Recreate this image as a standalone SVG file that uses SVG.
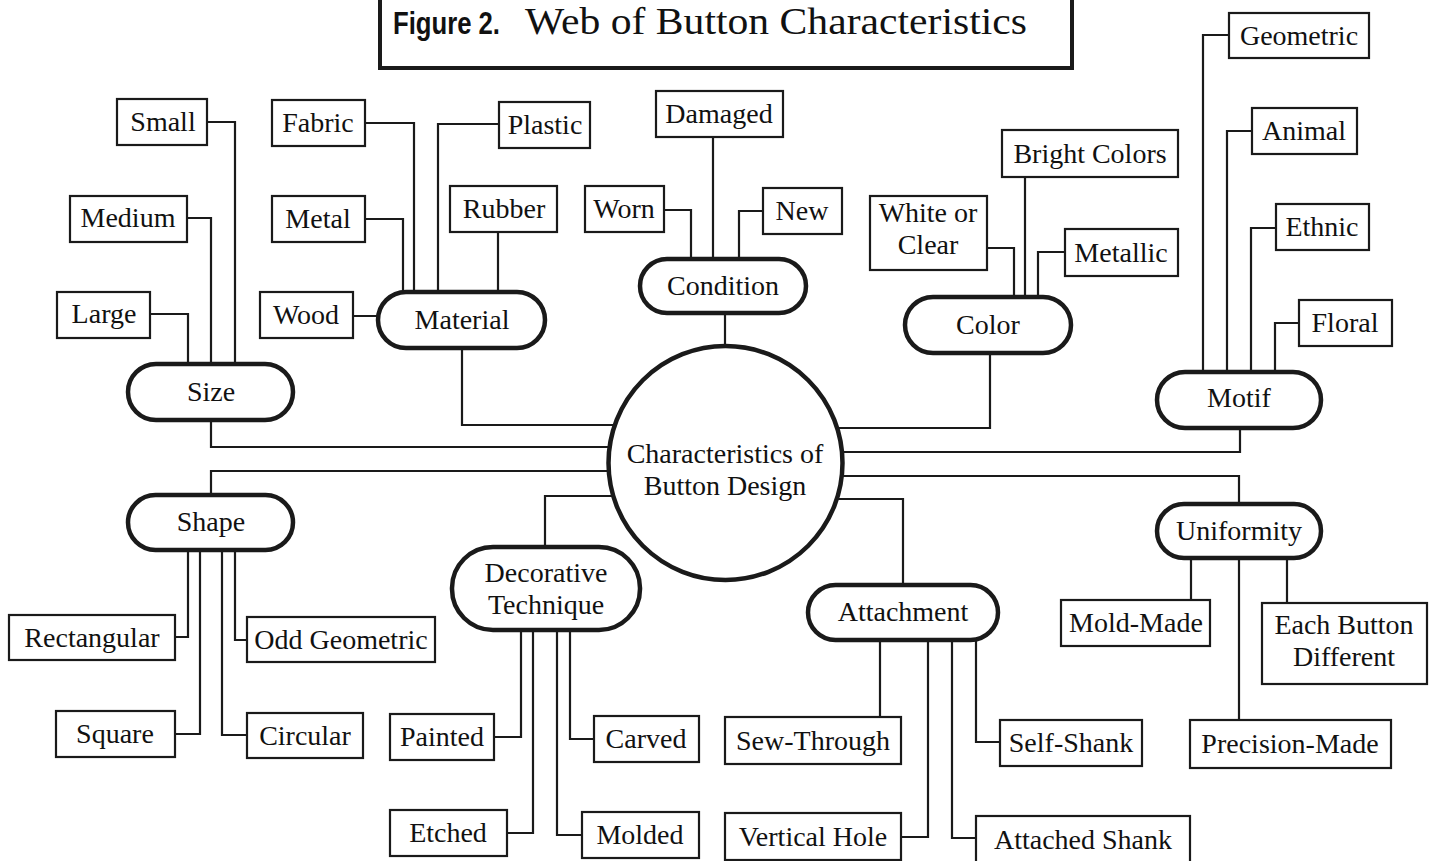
<svg xmlns="http://www.w3.org/2000/svg" width="1440" height="861" viewBox="0 0 1440 861">
<style>
.bg{fill:#fff}
.c path{fill:none;stroke:#1a1a1a;stroke-width:2.2}
.pill{fill:#fff;stroke:#1a1a1a;stroke-width:4.5}
.box{fill:#fff;stroke:#1a1a1a;stroke-width:2.2}
text{font-family:"Liberation Serif","Times New Roman",serif;font-size:28px;fill:#111;text-anchor:middle}
.fig{font-family:"Liberation Sans",Arial,sans-serif;font-weight:bold;text-anchor:start;font-size:32px}
.ttl{font-size:37px;text-anchor:start}
</style>
<rect class="bg" x="0" y="0" width="1440" height="861"/>
<g id="title">
<rect x="380" y="-10" width="692" height="78" fill="#fff" stroke="#1a1a1a" stroke-width="4"/>
<text class="fig" x="393" y="34" textLength="107" lengthAdjust="spacingAndGlyphs">Figure 2.</text>
<text class="ttl" x="525" y="34" textLength="502" lengthAdjust="spacingAndGlyphs">Web of Button Characteristics</text>
</g>
<g id="connectors" class="c">
<path d="M207,122 H235 V364 M187,218 H211 V364 M150,314 H188 V364 M211,420 V447 H610"/>
<path d="M365,123 H414 V292 M365,219 H403 V292 M499,124 H438 V292 M498,232 V292 M353,316 H378 M462,348 V425 H615"/>
<path d="M713,137 V259 M664,210 H691 V259 M763,211 H739 V259 M725,313 V346"/>
<path d="M987,248 H1014 V297 M1025,177 V297 M1065,252 H1038 V297 M990,353 V428 H837"/>
<path d="M1229,35 H1203 V372 M1252,131 H1227 V372 M1276,228 H1251 V372 M1299,323 H1275 V372 M1240,428 V452 H842"/>
<path d="M609,471 H211 V495 M188,550 V637 H175 M200,550 V734 H175 M222,550 V735 H247 M235,550 V640 H247"/>
<path d="M613,496 H545 V547 M521,630 V737 H494 M533,630 V833 H507 M557,630 V835 H582 M570,630 V739 H594"/>
<path d="M837,499 H903 V585 M880,640 V717 M928,640 V837 H901 M952,640 V838 H976 M976,640 V742 H1000"/>
<path d="M842,476 H1239 V504 M1191,558 V600 M1239,558 V720 M1287,558 V603"/>
</g>
<g id="center"><circle cx="725.5" cy="463" r="117" class="pill"/><text x="725" y="463">Characteristics of</text><text x="725" y="495">Button Design</text></g>
<g id="size"><rect class="pill" x="128" y="364" width="165" height="56" rx="28"/><text x="211" y="401">Size</text></g>
<g id="material"><rect class="pill" x="378" y="292" width="167" height="56" rx="28"/><text x="462" y="329">Material</text></g>
<g id="condition"><rect class="pill" x="640" y="259" width="166" height="54" rx="27"/><text x="723" y="295">Condition</text></g>
<g id="color"><rect class="pill" x="905" y="297" width="166" height="56" rx="28"/><text x="988" y="334">Color</text></g>
<g id="motif"><rect class="pill" x="1157" y="372" width="164" height="56" rx="28"/><text x="1239" y="407">Motif</text></g>
<g id="shape"><rect class="pill" x="128" y="495" width="165" height="55" rx="27.5"/><text x="211" y="531">Shape</text></g>
<g id="decorative"><rect class="pill" x="452" y="547" width="188" height="83" rx="41"/><text x="546" y="582">Decorative</text><text x="546" y="614">Technique</text></g>
<g id="attachment"><rect class="pill" x="808" y="585" width="190" height="55" rx="27.5"/><text x="903" y="621">Attachment</text></g>
<g id="uniformity"><rect class="pill" x="1157" y="504" width="164" height="54" rx="27"/><text x="1239" y="540">Uniformity</text></g>
<g id="small"><rect class="box" x="117" y="99" width="90" height="46"/><text x="163" y="131">Small</text></g>
<g id="medium"><rect class="box" x="70" y="196" width="117" height="46"/><text x="128" y="227">Medium</text></g>
<g id="large"><rect class="box" x="57" y="292" width="93" height="46"/><text x="104" y="323">Large</text></g>
<g id="fabric"><rect class="box" x="272" y="100" width="93" height="46"/><text x="318" y="132">Fabric</text></g>
<g id="plastic"><rect class="box" x="499" y="102" width="91" height="46"/><text x="545" y="134">Plastic</text></g>
<g id="metal"><rect class="box" x="272" y="196" width="93" height="46"/><text x="318" y="228">Metal</text></g>
<g id="rubber"><rect class="box" x="450" y="186" width="107" height="46"/><text x="504" y="218">Rubber</text></g>
<g id="wood"><rect class="box" x="260" y="292" width="93" height="46"/><text x="306" y="324">Wood</text></g>
<g id="damaged"><rect class="box" x="656" y="91" width="127" height="46"/><text x="719" y="123">Damaged</text></g>
<g id="worn"><rect class="box" x="585" y="186" width="79" height="46"/><text x="624" y="218">Worn</text></g>
<g id="new"><rect class="box" x="763" y="188" width="79" height="46"/><text x="802" y="220">New</text></g>
<g id="bright"><rect class="box" x="1002" y="130" width="176" height="47"/><text x="1090" y="163">Bright Colors</text></g>
<g id="white"><rect class="box" x="870" y="196" width="117" height="74"/><text x="928" y="222">White or</text><text x="928" y="254">Clear</text></g>
<g id="metallic"><rect class="box" x="1065" y="229" width="113" height="47"/><text x="1121" y="262">Metallic</text></g>
<g id="geometric"><rect class="box" x="1229" y="13" width="140" height="45"/><text x="1299" y="45">Geometric</text></g>
<g id="animal"><rect class="box" x="1252" y="108" width="105" height="46"/><text x="1304" y="140">Animal</text></g>
<g id="ethnic"><rect class="box" x="1276" y="204" width="93" height="46"/><text x="1322" y="236">Ethnic</text></g>
<g id="floral"><rect class="box" x="1299" y="300" width="93" height="46"/><text x="1345" y="332">Floral</text></g>
<g id="rectangular"><rect class="box" x="9" y="615" width="166" height="45"/><text x="92" y="647">Rectangular</text></g>
<g id="oddgeo"><rect class="box" x="247" y="617" width="188" height="45"/><text x="341" y="649">Odd Geometric</text></g>
<g id="square"><rect class="box" x="56" y="711" width="119" height="46"/><text x="115" y="743">Square</text></g>
<g id="circular"><rect class="box" x="247" y="713" width="116" height="45"/><text x="305" y="745">Circular</text></g>
<g id="painted"><rect class="box" x="390" y="714" width="104" height="46"/><text x="442" y="746">Painted</text></g>
<g id="carved"><rect class="box" x="594" y="716" width="105" height="46"/><text x="646" y="748">Carved</text></g>
<g id="etched"><rect class="box" x="390" y="810" width="117" height="46"/><text x="448" y="842">Etched</text></g>
<g id="molded"><rect class="box" x="582" y="812" width="117" height="46"/><text x="640" y="844">Molded</text></g>
<g id="sewthrough"><rect class="box" x="725" y="717" width="176" height="47"/><text x="813" y="750">Sew-Through</text></g>
<g id="selfshank"><rect class="box" x="1000" y="720" width="142" height="46"/><text x="1071" y="752">Self-Shank</text></g>
<g id="vertical"><rect class="box" x="725" y="813" width="176" height="47"/><text x="813" y="846">Vertical Hole</text></g>
<g id="attached"><rect class="box" x="976" y="816" width="214" height="47"/><text x="1083" y="849">Attached Shank</text></g>
<g id="moldmade"><rect class="box" x="1061" y="600" width="149" height="46"/><text x="1136" y="632">Mold-Made</text></g>
<g id="eachbutton"><rect class="box" x="1262" y="603" width="165" height="81"/><text x="1344" y="634">Each Button</text><text x="1344" y="666">Different</text></g>
<g id="precision"><rect class="box" x="1190" y="720" width="201" height="48"/><text x="1290" y="753">Precision-Made</text></g>
</svg>
